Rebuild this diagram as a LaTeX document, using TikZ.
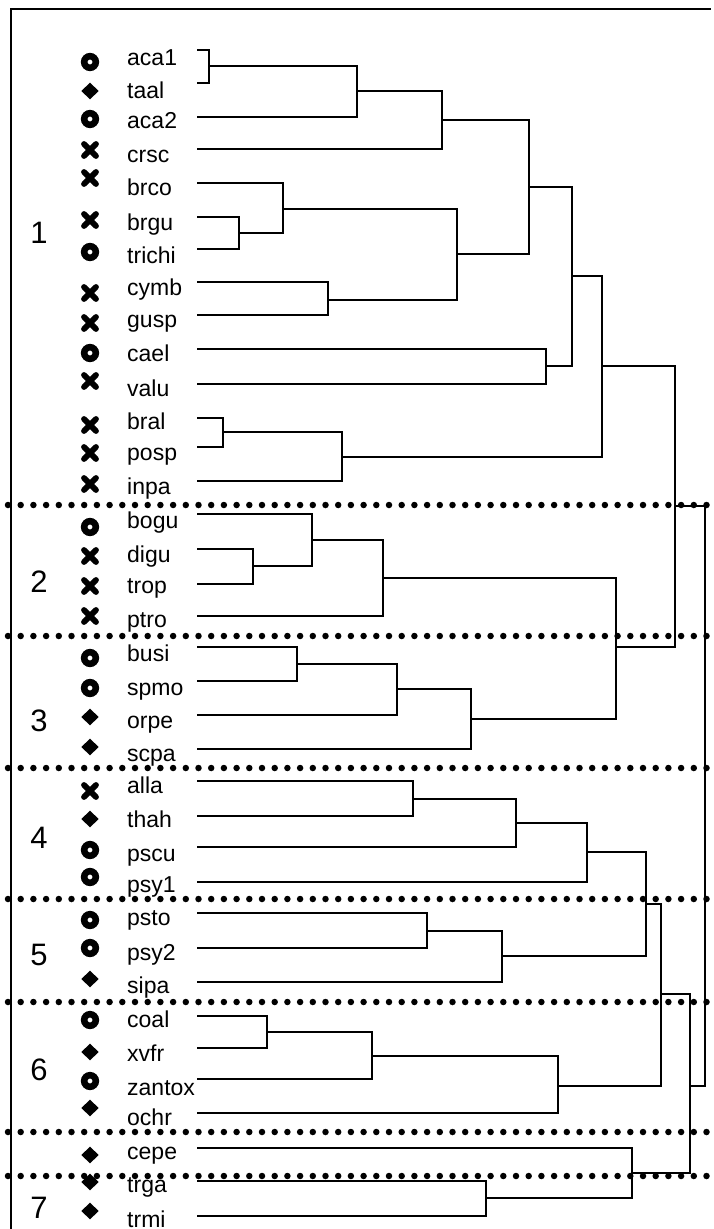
\documentclass[tikz,border=0pt]{standalone}
\usepackage{fontspec}
\setmainfont{Liberation Sans}
\tikzset{
  dl/.style={line width=1.8pt, line join=miter},
  lab/.style={anchor=base west, inner sep=0pt, font=\fontsize{23}{27}\selectfont},
  grp/.style={anchor=base, inner sep=0pt, font=\fontsize{31}{36}\selectfont},
  sep/.style={line width=6.5pt, line cap=round, dash pattern=on 0pt off 12.7pt},
  mko/.pic={\draw[line width=6.6pt] (0pt,0pt) circle (5.8pt);},
  mkd/.pic={\fill (0pt,-8.3pt) -- (8.7pt,0pt) -- (0pt,8.3pt) -- (-8.7pt,0pt) -- cycle;},
  mkx/.pic={\draw[line width=5.8pt, line cap=round] (-6pt,-6pt) -- (6pt,6pt) (-6pt,6pt) -- (6pt,-6pt);}
}
\begin{document}
\begin{tikzpicture}[x=1pt, y=-1pt]
\useasboundingbox (0,0) rectangle (713,1229);
% frame
\draw[line width=1.9pt] (11,1229) -- (11,9) -- (711,9);
% group separators
\foreach \yy in {505,636,768,899,1002,1132,1176}
  \draw[sep] (8,\yy) -- (713,\yy);
% leaves: name / line y / baseline / marker / marker y
\foreach \n/\ly/\bl/\m/\my in {
  aca1/50/65/o/62, taal/83/98/d/91, aca2/117/128/o/119, crsc/149/162/x/150,
  brco/183/195/x/178, brgu/217/230/x/220, trichi/249/263/o/252, cymb/282/295/x/293,
  gusp/315/327/x/323, cael/349/361/o/353, valu/384/396/x/381, bral/418/429/x/425,
  posp/447/460/x/453, inpa/481/494/x/484, bogu/514/528/o/527, digu/549/562/x/556,
  trop/584/593/x/586, ptro/616/627/x/616, busi/647/661/o/658, spmo/681/695/o/688,
  orpe/715/728/d/717, scpa/749/761/d/747, alla/781/793/x/791, thah/816/827/d/819,
  pscu/847/861/o/850, psy1/882/892/o/877, psto/913/925/o/920, psy2/948/960/o/948,
  sipa/982/993/d/979, coal/1016/1027/o/1020, xvfr/1048/1061/d/1052, zantox/1079/1095/o/1081,
  ochr/1113/1125/d/1108, cepe/1148/1159/d/1155, trga/1181/1192/d/1182, trmi/1216/1227/d/1211}
{
  \coordinate (\n) at (197,\ly);
  \node[lab] (t\n) at (127,\bl) {\n};
  \pic at (90,\my) {mk\m};
}
% group numbers
\foreach \g/\gy in {1/243, 2/592, 3/731, 4/848, 5/965, 6/1080, 7/1218}
  \node[grp] (g\g) at (39,\gy) {\g};
% internal nodes
\coordinate (A) at (209,66);
\coordinate (B) at (357,91);
\coordinate (C) at (442,120);
\coordinate (E) at (239,233);
\coordinate (F) at (283,209);
\coordinate (G) at (328,300);
\coordinate (H) at (457,254);
\coordinate (I) at (529,187);
\coordinate (K) at (546,366);
\coordinate (J) at (572,276);
\coordinate (M) at (223,432);
\coordinate (N) at (342,457);
\coordinate (L) at (602,366);
\coordinate (Q) at (253,566);
\coordinate (P) at (312,540);
\coordinate (R) at (383,578);
\coordinate (T) at (297,664);
\coordinate (U1) at (397,689);
\coordinate (U) at (471,719);
\coordinate (S) at (616,647);
\coordinate (O) at (675,506);
\coordinate (V1) at (413,799);
\coordinate (V) at (516,823);
\coordinate (W) at (587,852);
\coordinate (Y1) at (427,931);
\coordinate (Y) at (502,956);
\coordinate (X) at (646,904);
\coordinate (AA) at (267,1032);
\coordinate (BB) at (372,1056);
\coordinate (CC) at (558,1086);
\coordinate (Z) at (661,994);
\coordinate (TG) at (486,1198);
\coordinate (DD) at (632,1173);
\coordinate (EE) at (690,1086);
\coordinate (root) at (705,796);
% dendrogram
\draw[dl] (aca1) -| (A) |- (taal);
\draw[dl] (A) -| (B) |- (aca2);
\draw[dl] (B) -| (C) |- (crsc);
\draw[dl] (brgu) -| (E) |- (trichi);
\draw[dl] (brco) -| (F) |- (E);
\draw[dl] (cymb) -| (G) |- (gusp);
\draw[dl] (F) -| (H) |- (G);
\draw[dl] (C) -| (I) |- (H);
\draw[dl] (cael) -| (K) |- (valu);
\draw[dl] (I) -| (J) |- (K);
\draw[dl] (bral) -| (M) |- (posp);
\draw[dl] (M) -| (N) |- (inpa);
\draw[dl] (J) -| (L) |- (N);
\draw[dl] (digu) -| (Q) |- (trop);
\draw[dl] (bogu) -| (P) |- (Q);
\draw[dl] (P) -| (R) |- (ptro);
\draw[dl] (busi) -| (T) |- (spmo);
\draw[dl] (T) -| (U1) |- (orpe);
\draw[dl] (U1) -| (U) |- (scpa);
\draw[dl] (R) -| (S) |- (U);
\draw[dl] (L) -| (O) |- (S);
\draw[dl] (alla) -| (V1) |- (thah);
\draw[dl] (V1) -| (V) |- (pscu);
\draw[dl] (V) -| (W) |- (psy1);
\draw[dl] (psto) -| (Y1) |- (psy2);
\draw[dl] (Y1) -| (Y) |- (sipa);
\draw[dl] (W) -| (X) |- (Y);
\draw[dl] (coal) -| (AA) |- (xvfr);
\draw[dl] (AA) -| (BB) |- (zantox);
\draw[dl] (BB) -| (CC) |- (ochr);
\draw[dl] (X) -| (Z) |- (CC);
\draw[dl] (trga) -| (TG) |- (trmi);
\draw[dl] (cepe) -| (DD) |- (TG);
\draw[dl] (Z) -| (EE) |- (DD);
\draw[dl] (O) -| (root) |- (EE);
\end{tikzpicture}
\end{document}
